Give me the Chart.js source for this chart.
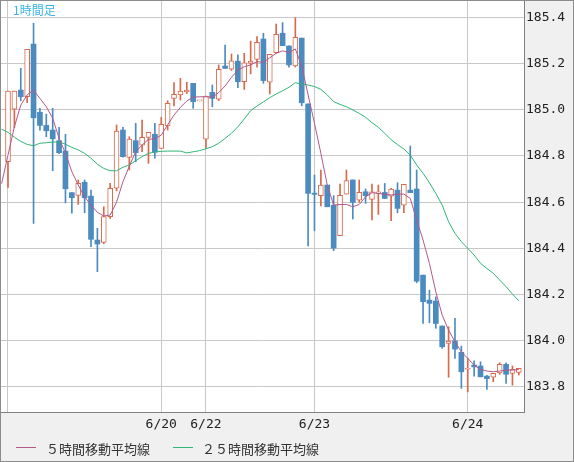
<!DOCTYPE html>
<html>
<head>
<meta charset="utf-8">
<script src="https://cdn.jsdelivr.net/npm/chart.js@4"></script>
<style>
body { margin: 0; background: #fff; }
#wrap { position: relative; width: 574px; height: 462px; box-sizing: border-box; border: 1px solid #8c8c8c; background: #f0f0f0; }
#chart { position: absolute; left: 0; top: 0; }
#title { position: absolute; left: 12px; top: 3px; font: 12px/12px "Noto Sans CJK JP"; color: #3ab4e8; }
.leg { position: absolute; top: 441px; font: 13px/13px "Noto Sans CJK JP"; color: #333; white-space: nowrap; }
.legline { position: absolute; top: 446px; width: 20px; height: 1px; }
</style>
</head>
<body>
<div id="wrap">
  <canvas id="chart" width="572" height="460"></canvas>
  <div id="title">1時間足</div>
  <div class="legline" style="left:15px;background:#b4588a"></div>
  <div class="leg" style="left:45px">５時間移動平均線</div>
  <div class="legline" style="left:172px;background:#30b676"></div>
  <div class="leg" style="left:201px">２５時間移動平均線</div>
</div>
<script>
// axis ticks
const xTickAt = [0, 24, 31, 48, 72];
const xTickLabels = ['', '6/20', '6/22', '6/23', '6/24'];
const yTicks = [183.8, 184.0, 184.2, 184.4, 184.6, 184.8, 185.0, 185.2, 185.4];

// hourly candles
const openP = [184.775, 185.002, 185.085, 185.056, 185.284, 184.989, 184.932, 184.912, 184.866, 184.821,
  184.641, 184.629, 184.686, 184.626, 184.436, 184.426, 184.537, 184.660, 184.912, 184.794,
  184.866, 184.847, 184.880, 184.894, 184.833, 184.930, 185.049, 185.064, 185.077, 185.114,
  185.038, 184.872, 185.075, 185.046, 185.189, 185.175, 185.210, 185.121, 185.201, 185.218,
  185.306, 185.119, 185.247, 185.331, 185.276, 185.190, 185.310, 185.025, 184.639, 184.628,
  184.674, 184.587, 184.455, 184.635, 184.696, 184.609, 184.645, 184.612, 184.638, 184.642,
  184.626, 184.652, 184.587, 184.652, 184.657, 184.284, 184.176, 184.172, 184.064, 183.989,
  183.999, 183.950, 183.877, 183.895, 183.891, 183.847, 183.842, 183.861, 183.898, 183.859,
  183.863];
const highP = [185.081, 185.081, 185.179, 185.261, 185.374, 185.006, 184.981, 185.006, 184.924, 184.894,
  184.641, 184.696, 184.696, 184.652, 184.487, 184.580, 184.681, 184.934, 184.924, 184.883,
  184.941, 184.955, 184.902, 184.941, 184.967, 185.039, 185.117, 185.136, 185.119, 185.114,
  185.038, 185.059, 185.107, 185.194, 185.280, 185.241, 185.237, 185.244, 185.297, 185.316,
  185.331, 185.240, 185.371, 185.377, 185.276, 185.398, 185.310, 185.025, 184.717, 184.739,
  184.674, 184.628, 184.678, 184.739, 184.696, 184.696, 184.657, 184.678, 184.674, 184.681,
  184.660, 184.684, 184.677, 184.843, 184.739, 184.284, 184.219, 184.190, 184.064, 184.061,
  184.097, 183.977, 183.924, 183.913, 183.909, 183.850, 183.859, 183.905, 183.905, 183.891,
  183.881];
const lowP = [184.664, 184.922, 185.039, 185.030, 184.508, 184.912, 184.883, 184.736, 184.810, 184.597,
  184.552, 184.590, 184.554, 184.407, 184.299, 184.420, 184.530, 184.649, 184.795, 184.739,
  184.775, 184.818, 184.768, 184.790, 184.833, 184.912, 185.016, 185.042, 185.070, 185.006,
  185.038, 184.833, 185.013, 185.039, 185.179, 185.170, 185.095, 185.088, 185.155, 185.184,
  185.114, 185.068, 185.245, 185.277, 185.184, 185.185, 185.017, 184.411, 184.476, 184.584,
  184.580, 184.390, 184.455, 184.635, 184.527, 184.600, 184.595, 184.523, 184.547, 184.616,
  184.520, 184.554, 184.554, 184.641, 184.251, 184.075, 184.078, 184.054, 183.967, 183.842,
  183.924, 183.794, 183.779, 183.847, 183.844, 183.789, 183.823, 183.855, 183.816, 183.808,
  183.852];
const closeP = [185.081, 185.081, 185.056, 185.261, 184.965, 184.932, 184.909, 184.874, 184.814, 184.658,
  184.619, 184.681, 184.619, 184.439, 184.419, 184.537, 184.660, 184.908, 184.797, 184.873,
  184.814, 184.880, 184.902, 184.816, 184.937, 185.028, 185.067, 185.081, 185.085, 185.035,
  185.038, 185.059, 185.049, 185.175, 185.179, 185.212, 185.121, 185.203, 185.210, 185.292,
  185.126, 185.240, 185.326, 185.277, 185.194, 185.313, 185.030, 184.638, 184.634, 184.674,
  184.580, 184.401, 184.629, 184.693, 184.599, 184.642, 184.628, 184.645, 184.645, 184.616,
  184.657, 184.573, 184.677, 184.641, 184.258, 184.169, 184.162, 184.075, 183.974, 183.999,
  183.964, 183.866, 183.877, 183.887, 183.844, 183.836, 183.859, 183.898, 183.855, 183.877,
  183.881];

// moving averages, first value sits one hour before the first candle
const maFirst = -1;
const ma5 = [184.68, 184.804, 184.926, 185.020, 185.064, 185.085, 185.049, 185.013, 184.963, 184.876,
  184.811, 184.732, 184.674, 184.623, 184.587, 184.556, 184.540, 184.544, 184.600, 184.688,
  184.756, 184.818, 184.847, 184.872, 184.874, 184.890, 184.934, 184.977, 185.010, 185.038,
  185.054, 185.056, 185.056, 185.054, 185.074, 185.103, 185.140, 185.172, 185.186, 185.194,
  185.208, 185.205, 185.225, 185.244, 185.255, 185.247, 185.263, 185.189, 185.064, 184.941,
  184.811, 184.674, 184.587, 184.590, 184.590, 184.580, 184.590, 184.623, 184.641, 184.638,
  184.634, 184.631, 184.635, 184.635, 184.616, 184.523, 184.436, 184.335, 184.212, 184.111,
  184.046, 183.996, 183.952, 183.924, 183.895, 183.876, 183.869, 183.866, 183.869, 183.873,
  183.873, 183.876];
const ma25 = [184.916, 184.902, 184.881, 184.863, 184.850, 184.844, 184.855, 184.857, 184.860, 184.860,
  184.851, 184.837, 184.826, 184.811, 184.790, 184.764, 184.746, 184.736, 184.736, 184.751,
  184.761, 184.779, 184.797, 184.811, 184.817, 184.820, 184.821, 184.821, 184.821, 184.813,
  184.818, 184.823, 184.831, 184.840, 184.855, 184.876, 184.898, 184.926, 184.960, 184.996,
  185.016, 185.034, 185.052, 185.068, 185.082, 185.097, 185.117, 185.111, 185.107, 185.100,
  185.088, 185.064, 185.035, 185.023, 185.013, 184.999, 184.984, 184.967, 184.944, 184.924,
  184.898, 184.870, 184.849, 184.830, 184.804, 184.761, 184.725, 184.684, 184.638, 184.587,
  184.515, 184.465, 184.429, 184.400, 184.371, 184.335, 184.313, 184.292, 184.263, 184.234,
  184.202, 184.173];

const UP = '#d9694a', DOWN = '#4b8bc0';
const isUp = closeP.map((c, i) => c >= openP[i]);
const bodies = openP.map((o, i) => ({ x: i, y: [Math.min(o, closeP[i]), Math.max(o, closeP[i])] }));
const wicks = lowP.map((l, i) => ({ x: i, y: [l, highP[i]] }));

const monoFont = { family: 'DejaVu Sans Mono', size: 13 };

// plot area fills the frame: drop the room Chart.js keeps for edge labels
function noEdgePad(s) {
  s.paddingTop = 0;
  s.paddingBottom = 0;
  s.paddingLeft = 0;
  s.paddingRight = 0;
}

new Chart(document.getElementById('chart'), {
  type: 'bar',
  data: {
    datasets: [
      {
        type: 'line', label: '５時間移動平均線',
        data: ma5.map((v, i) => ({ x: i + maFirst, y: v })),
        borderColor: '#b4588a', borderWidth: 1, pointRadius: 0, tension: 0
      },
      {
        type: 'line', label: '２５時間移動平均線',
        data: ma25.map((v, i) => ({ x: i + maFirst, y: v })),
        borderColor: '#30b676', borderWidth: 1, pointRadius: 0, tension: 0
      },
      {
        label: 'body', data: bodies, grouped: false, barThickness: 5, minBarLength: 1,
        backgroundColor: isUp.map(u => u ? '#ffffff' : DOWN),
        borderColor: isUp.map(u => u ? UP : DOWN),
        borderWidth: isUp.map(u => u ? 1 : 0),
        borderSkipped: false
      },
      {
        label: 'wick', data: wicks, grouped: false, barThickness: 1,
        backgroundColor: isUp.map(u => u ? UP : DOWN), borderWidth: 0
      }
    ]
  },
  options: {
    responsive: false,
    animation: false,
    devicePixelRatio: 1,
    layout: { padding: 0 },
    plugins: { legend: { display: false }, tooltip: { enabled: false } },
    scales: {
      x: {
        type: 'linear', min: -1.096, max: 80.81, offset: false,
        grid: { offset: false, color: '#c8c8c8', drawTicks: false },
        border: { color: '#808080' },
        afterBuildTicks: s => { s.ticks = xTickAt.map(v => ({ value: v })); },
        afterFit: s => { s.height = 49; noEdgePad(s); },
        ticks: {
          autoSkip: false, maxRotation: 0, padding: 5, color: '#222', font: monoFont,
          callback: (v, i) => xTickLabels[i]
        }
      },
      y: {
        position: 'right', min: 183.6918, max: 185.4705,
        grid: { color: '#c8c8c8', drawTicks: false },
        border: { color: '#808080' },
        afterBuildTicks: s => { s.ticks = yTicks.map(v => ({ value: v })); },
        afterFit: s => { s.width = 49; noEdgePad(s); },
        ticks: { padding: 2, color: '#222', font: monoFont, callback: v => v.toFixed(1) }
      }
    }
  },
  plugins: [{
    id: 'plotBg',
    beforeDraw(chart) {
      const a = chart.chartArea, ctx = chart.ctx;
      ctx.save();
      ctx.fillStyle = '#ffffff';
      ctx.fillRect(a.left, a.top, a.width, a.height);
      ctx.restore();
    }
  }]
});
</script>
</body>
</html>
